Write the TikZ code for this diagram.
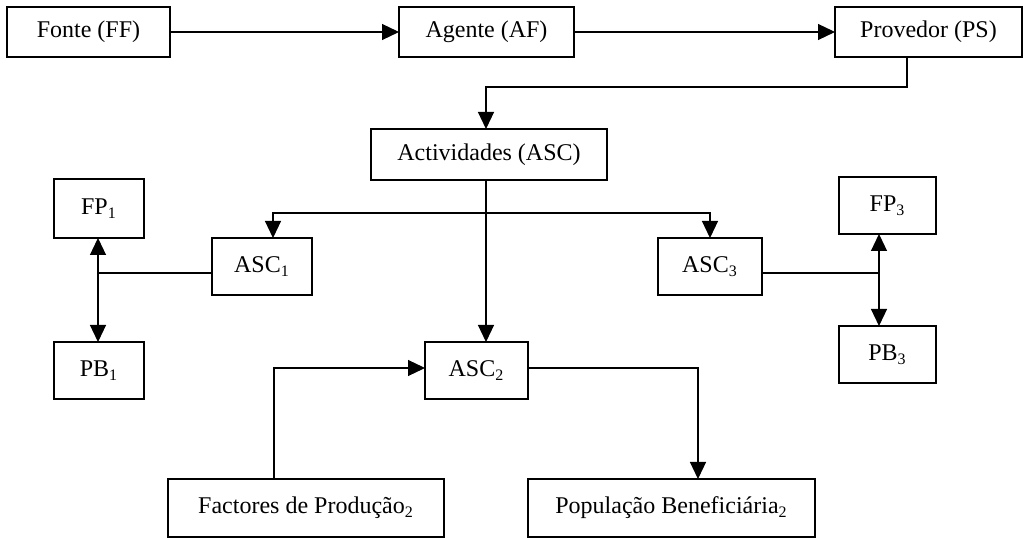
\documentclass[tikz,border=0pt]{standalone}
\usepackage{fontspec}
\setmainfont{Liberation Serif}
\usetikzlibrary{arrows.meta,positioning}

\begin{document}
\begin{tikzpicture}[x=0.5pt,y=-0.5pt,
    box/.style={draw,line width=0.6pt,inner sep=0pt,outer sep=0pt,font=\fontsize{12}{14}\selectfont},
    link/.style={line width=0.6pt},
    arr/.style={link,-{Triangle[length=8.5pt,width=8pt]}},
    arrs/.style={link,{Triangle[length=8.5pt,width=8pt]}-{Triangle[length=8.5pt,width=8pt]}}]
    \useasboundingbox (0,0) rectangle (1023,539);
    % Top row %
    \node[box,minimum width=81.5pt,minimum height=25pt] (fonte) at (88.5,32) {Fonte (FF)};
    \node[box,minimum width=87.5pt,minimum height=25pt] (agente) at (486.5,32) {Agente (AF)};
    \node[box,minimum width=93.5pt,minimum height=25pt] (provedor) at (928.5,32) {Provedor (PS)};
    \node[box,minimum width=118pt,minimum height=25.5pt] (activ) at (489,154.5) {Actividades (ASC)};

    % Activities %
    \node[box,minimum width=45pt,minimum height=29.5pt] (fp1) at (99,208.5) {FP\textsubscript{1}};
    \node[box,minimum width=50pt,minimum height=28.5pt] (asc1) at (262,266.5) {ASC\textsubscript{1}};
    \node[box,minimum width=45pt,minimum height=28.5pt] (pb1) at (99,370.5) {PB\textsubscript{1}};
    \node[box,minimum width=51.5pt,minimum height=28.5pt] (asc2) at (476.5,370.5) {ASC\textsubscript{2}};
    \node[box,minimum width=52pt,minimum height=28.5pt] (asc3) at (710,266.5) {ASC\textsubscript{3}};
    \node[box,minimum width=48.5pt,minimum height=28.5pt] (fp3) at (887.5,205.5) {FP\textsubscript{3}};
    \node[box,minimum width=48.5pt,minimum height=28.5pt] (pb3) at (887.5,354.5) {PB\textsubscript{3}};
    \node[box,minimum width=138pt,minimum height=29pt] (fator) at (306,508) {Factores de Produção\textsubscript{2}};
    \node[box,minimum width=143.5pt,minimum height=29pt] (popul) at (671.5,508) {População Beneficiária\textsubscript{2}};

    % Bend points %
    \coordinate (psdrop) at (907,87);
    \coordinate (actin) at (486,87);
    \coordinate (brl) at (273,213);
    \coordinate (brr) at (710,213);
    \coordinate (j1) at (98,273);
    \coordinate (j3) at (879,273);
    \coordinate (fin) at (274,368);
    \coordinate (pout) at (698,368);

    % Connectors %
    \draw[arr] (fonte) -- (agente);
    \draw[arr] (agente) -- (provedor);
    \draw[arr] (provedor.south -| psdrop) -- (psdrop) -| (activ.north -| actin);
    \draw[arr] (activ.south -| actin) -- (asc2.north -| actin);
    \draw[arrs] (asc1.north -| brl) |- (brr) -- (asc3.north);
    \draw[link] (asc1.west |- j1) -- (j1);
    \draw[arrs] (fp1.south -| j1) -- (pb1.north -| j1);
    \draw[link] (asc3.east |- j3) -- (j3);
    \draw[arrs] (fp3.south -| j3) -- (pb3.north -| j3);
    \draw[arr] (fator.north -| fin) |- (asc2.west |- fin);
    \draw[arr] (asc2.east |- pout) -| (popul.north -| pout);
\end{tikzpicture}
\end{document}
